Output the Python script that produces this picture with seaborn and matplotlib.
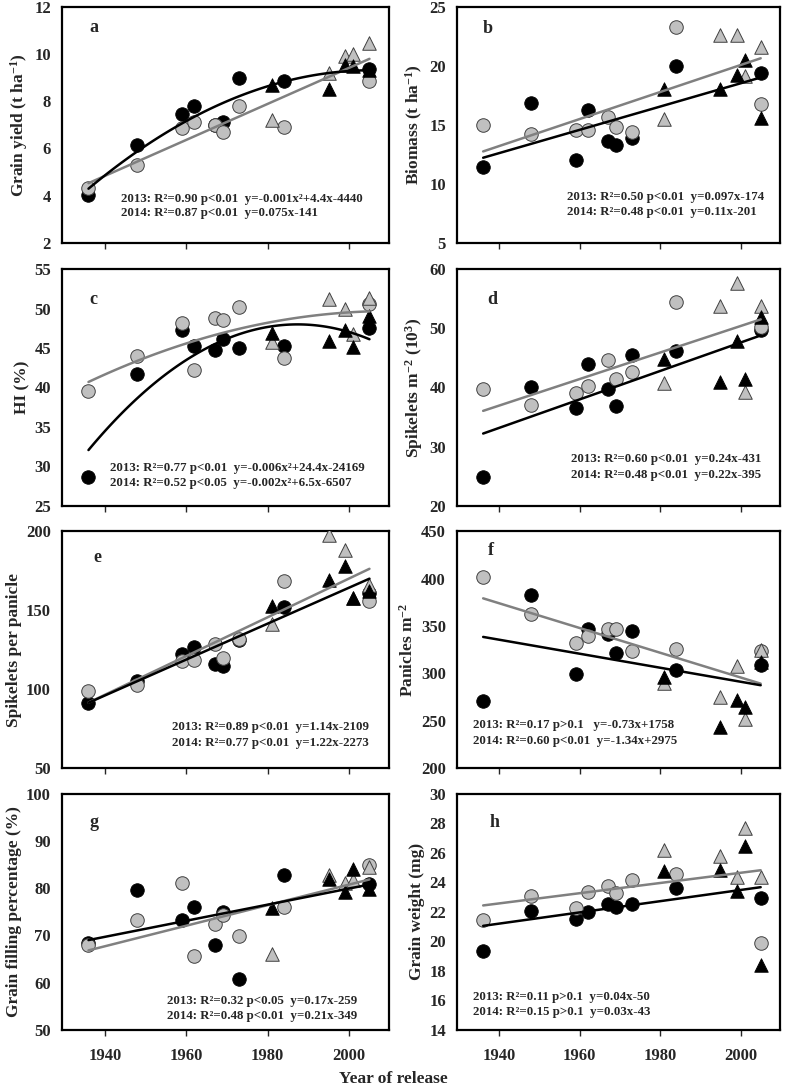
import numpy as np
import pandas as pd
import seaborn as sns
import matplotlib
matplotlib.use("Agg")
import matplotlib.pyplot as plt

# release years: inbred cultivars (circles) and hybrids (triangles)
years_circ = [1936, 1948, 1959, 1962, 1967, 1969, 1973, 1984, 2005]
years_tri = [1981, 1995, 1999, 2001, 2005]

# a: grain yield
yield_13_c = [4.05, 6.14, 7.46, 7.81, 7.0, 7.12, 8.98, 8.87, 9.37]
yield_14_c = [4.33, 5.32, 6.88, 7.12, 6.99, 6.70, 7.81, 6.90, 8.84]
yield_13_t = [8.7, 8.5, 9.53, 9.5, 9.3]
yield_14_t = [7.2, 9.2, 9.9, 10.0, 10.45]
# b: biomass
bio_13_c = [11.46, 16.81, 12.0, 16.27, 13.64, 13.33, 13.9, 19.94, 19.4]
bio_14_c = [15.0, 14.2, 14.6, 14.6, 15.65, 14.83, 14.38, 23.27, 16.76]
bio_13_t = [18.0, 18.0, 19.25, 20.45, 15.6]
bio_14_t = [15.5, 22.6, 22.6, 19.1, 21.6]
# c: harvest index
hi_13_c = [28.6, 41.75, 47.3, 45.25, 44.75, 46.2, 45.0, 45.25, 47.5]
hi_14_c = [39.5, 44.0, 48.2, 42.2, 48.85, 48.55, 50.15, 43.8, 50.65]
hi_13_t = [46.9, 45.9, 47.3, 45.1, 49.05]
hi_14_t = [45.8, 51.2, 50.0, 46.8, 51.3]
# d: spikelets m-2
spm_13_c = [24.85, 40.0, 36.6, 44.0, 39.8, 36.9, 45.5, 46.1, 49.75]
spm_14_c = [39.7, 37.1, 39.1, 40.2, 44.7, 41.4, 42.6, 54.5, 50.3]
spm_13_t = [44.85, 40.9, 47.8, 41.4, 52.0]
spm_14_t = [40.7, 53.8, 57.6, 39.2, 53.8]
# e: spikelets per panicle
spp_13_c = [91.2, 105.4, 122.3, 126.7, 115.9, 114.4, 131.0, 152.0, 161.0]
spp_14_c = [99.0, 102.4, 117.6, 118.2, 128.6, 119.7, 131.8, 168.7, 155.6]
spp_13_t = [152.9, 169.4, 177.8, 158.0, 162.0]
spp_14_t = [141.3, 197.9, 188.4, 157.7, 166.2]
# f: panicles m-2
pan_13_c = [271.1, 383.1, 299.6, 347.2, 341.9, 321.5, 344.4, 303.9, 309.2]
pan_14_c = [401.4, 362.7, 332.0, 339.8, 346.8, 347.2, 323.2, 325.7, 323.2]
pan_13_t = [295.8, 243.0, 272.2, 264.1, 312.0]
pan_14_t = [289.8, 274.6, 308.0, 251.8, 325.0]
# g: grain filling percentage
gf_13_c = [68.4, 79.5, 73.2, 76.0, 68.0, 74.9, 60.7, 82.8, 80.9]
gf_14_c = [68.0, 73.3, 81.1, 65.7, 72.4, 74.4, 69.8, 76.0, 84.8]
gf_13_t = [75.8, 81.9, 79.1, 84.0, 79.8]
gf_14_t = [66.1, 82.8, 81.1, 81.8, 84.5]
# h: grain weight
gw_13_c = [19.38, 22.06, 21.49, 21.99, 22.51, 22.35, 22.51, 23.58, 22.9]
gw_14_c = [21.44, 23.08, 22.24, 23.35, 23.76, 23.24, 24.15, 24.55, 19.86]
gw_13_t = [24.78, 24.83, 23.42, 26.44, 18.43]
gw_14_t = [26.19, 25.8, 24.33, 27.7, 24.33]

panels = [
    ("a", "Grain yield (t ha$^{\\mathrm{-1}}$)", (2, 12, 2),
     yield_13_c, yield_14_c, yield_13_t, yield_14_t, 2, 1,
     "2013: R²=0.90 p<0.01  y=-0.001x²+4.4x-4440",
     "2014: R²=0.87 p<0.01  y=0.075x-141", (0.18, 0.186, 0.127), (0.085, 0.91)),
    ("b", "Biomass (t ha$^{\\mathrm{-1}}$)", (5, 25, 5),
     bio_13_c, bio_14_c, bio_13_t, bio_14_t, 1, 1,
     "2013: R²=0.50 p<0.01  y=0.097x-174",
     "2014: R²=0.48 p<0.01  y=0.11x-201", (0.34, 0.195, 0.13), (0.08, 0.907)),
    ("c", "HI (%)", (25, 55, 5),
     hi_13_c, hi_14_c, hi_13_t, hi_14_t, 2, 2,
     "2013: R²=0.77 p<0.01  y=-0.006x²+24.4x-24169",
     "2014: R²=0.52 p<0.05  y=-0.002x²+6.5x-6507", (0.147, 0.159, 0.096), (0.085, 0.874)),
    ("d", "Spikelets m$^{\\mathrm{-2}}$ (10$^{\\mathrm{3}}$)", (20, 60, 10),
     spm_13_c, spm_14_c, spm_13_t, spm_14_t, 1, 1,
     "2013: R²=0.60 p<0.01  y=0.24x-431",
     "2014: R²=0.48 p<0.01  y=0.22x-395", (0.353, 0.197, 0.13), (0.093, 0.874)),
    ("e", "Spikelets per panicle", (50, 200, 50),
     spp_13_c, spp_14_c, spp_13_t, spp_14_t, 1, 1,
     "2013: R²=0.89 p<0.01  y=1.14x-2109",
     "2014: R²=0.77 p<0.01  y=1.22x-2273", (0.336, 0.174, 0.106), (0.095, 0.89)),
    ("f", "Panicles m$^{\\mathrm{-2}}$", (200, 450, 50),
     pan_13_c, pan_14_c, pan_13_t, pan_14_t, 1, 1,
     "2013: R²=0.17 p>0.1   y=-0.73x+1758",
     "2014: R²=0.60 p<0.01  y=-1.34x+2975", (0.05, 0.182, 0.114), (0.096, 0.92)),
    ("g", "Grain filling percentage (%)", (50, 100, 10),
     gf_13_c, gf_14_c, gf_13_t, gf_14_t, 1, 1,
     "2013: R²=0.32 p<0.05  y=0.17x-259",
     "2014: R²=0.48 p<0.01  y=0.21x-349", (0.32, 0.123, 0.06), (0.085, 0.877)),
    ("h", "Grain weight (mg)", (14, 30, 2),
     gw_13_c, gw_14_c, gw_13_t, gw_14_t, 1, 1,
     "2013: R²=0.11 p>0.1  y=0.04x-50",
     "2014: R²=0.15 p>0.1  y=0.03x-43", (0.05, 0.14, 0.076), (0.1, 0.877)),
]

sns.set_style("ticks")
plt.rcParams["font.family"] = ["Liberation Serif", "DejaVu Serif"]
plt.rcParams["font.weight"] = "bold"
plt.rcParams["mathtext.fontset"] = "custom"
plt.rcParams["mathtext.rm"] = "Liberation Serif:bold"
plt.rcParams["mathtext.it"] = "Liberation Serif:bold:italic"
plt.rcParams["mathtext.bf"] = "Liberation Serif:bold"

GRAY = "#c0c0c0"
GRAY_LINE = "#808080"

fig = plt.figure(figsize=(7.87, 10.9), dpi=100)
lefts = [0.0788, 0.5807]
widths = [0.4155, 0.4104]
bottoms = [0.777, 0.536, 0.2955, 0.055]
height = 0.217

for i, p in enumerate(panels):
    letter, ylabel, (ymin, ymax, ystep), y13c, y14c, y13t, y14t, ord13, ord14, t1, t2, tpos, lpos = p
    row, col = divmod(i, 2)
    ax = fig.add_axes([lefts[col], bottoms[row], widths[col], height])

    yrs = years_circ + years_tri
    df = pd.DataFrame({"year": yrs, "y13": y13c + y13t, "y14": y14c + y14t})

    sns.scatterplot(x=years_circ, y=y13c, ax=ax, marker="o", s=95, color="black",
                    edgecolor="black", linewidth=0.6, zorder=2)
    sns.scatterplot(x=years_circ, y=y14c, ax=ax, marker="o", s=95, color=GRAY,
                    edgecolor="#404040", linewidth=0.7, zorder=3)
    sns.scatterplot(x=years_tri, y=y14t, ax=ax, marker="^", s=95, color=GRAY,
                    edgecolor="#404040", linewidth=0.7, zorder=3)
    sns.scatterplot(x=years_tri, y=y13t, ax=ax, marker="^", s=95, color="black",
                    edgecolor="black", linewidth=0.6, zorder=4)

    # regression lines (2014 grey, 2013 black on top)
    sns.regplot(data=df, x="year", y="y14", order=ord14, ci=None, scatter=False, ax=ax,
                color=GRAY_LINE, line_kws=dict(lw=1.8, zorder=5))
    sns.regplot(data=df, x="year", y="y13", order=ord13, ci=None, scatter=False, ax=ax,
                color="black", line_kws=dict(lw=1.8, zorder=6))

    ax.set_xlim(1929.5, 2009.8)
    ax.set_ylim(ymin, ymax)
    ax.set_xticks([1940, 1960, 1980, 2000])
    ax.set_yticks(np.arange(ymin, ymax + ystep / 2, ystep))
    ax.tick_params(axis="x", direction="out", length=4, width=1, pad=9, labelsize=12)
    ax.tick_params(axis="y", length=0, pad=8, labelsize=12)
    if row < 3:
        ax.set_xticklabels([])
    for lab in ax.get_xticklabels() + ax.get_yticklabels():
        lab.set_fontweight("bold")
    for sp in ax.spines.values():
        sp.set_linewidth(1.6)
        sp.set_color("black")

    ax.set_xlabel("")
    ax.set_ylabel(ylabel, fontsize=12.5, fontweight="bold", labelpad=3)

    ax.text(lpos[0], lpos[1], letter, transform=ax.transAxes, fontsize=13,
            fontweight="bold", ha="left", va="center")
    ax.text(tpos[0], tpos[1], t1, transform=ax.transAxes, fontsize=9.3,
            fontweight="bold", ha="left", va="center")
    ax.text(tpos[0], tpos[2], t2, transform=ax.transAxes, fontsize=9.3,
            fontweight="bold", ha="left", va="center")

fig.text(0.5, 0.003, "Year of release", ha="center", va="bottom", fontsize=12.5,
         fontweight="bold")

fig.savefig("out.png", dpi=100)
